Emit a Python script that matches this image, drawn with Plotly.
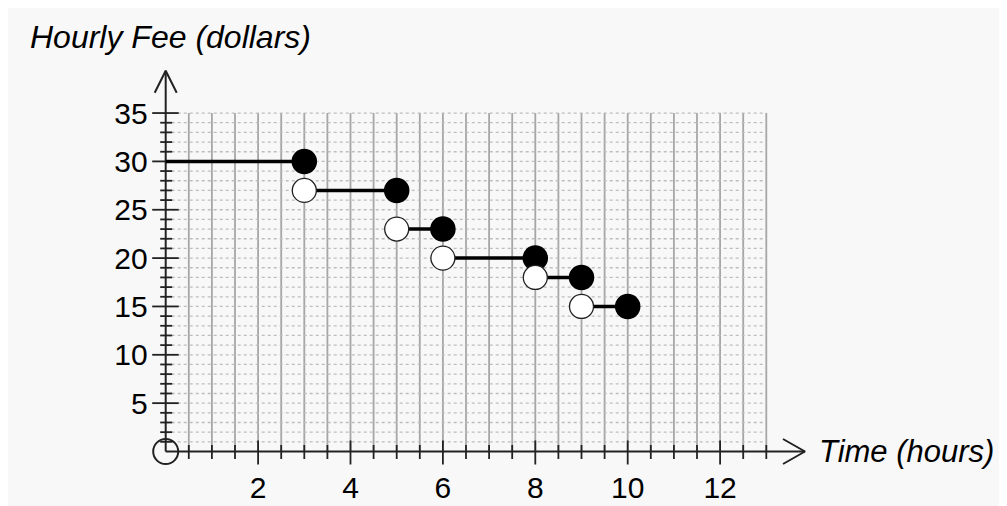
import plotly.graph_objects as go

# ---- data ----
seg_start = [0, 3, 5, 6, 8, 9]
seg_end = [3, 5, 6, 8, 9, 10]
fee = [30, 27, 23, 20, 18, 15]

x_tick_labels = [2, 4, 6, 8, 10, 12]
y_tick_labels = [5, 10, 15, 20, 25, 30, 35]
x_grid_max = 13
y_grid_max = 35
x_grid_step = 0.5

x_title = "Time (hours)"
y_title = "Hourly Fee (dollars)"

# ---- layout geometry (pixel mapping, figure coords; page has 8px body margin) ----
OFF = 8
W, H = 1007 - OFF, 506 - OFF
X0PX, Y0PX = 165.7 - OFF, 451.5 - OFF   # pixel of data origin
XU, YU = 46.2, 9.67                     # pixels per data unit

def px2x(p):
    return (p - OFF - X0PX) / XU

def px2y(p):
    return (Y0PX - (p - OFF)) / YU

xr = [(0 - X0PX) / XU, (W - X0PX) / XU]
yr = [(Y0PX - H) / YU, (Y0PX - 0) / YU]

FONT = "Arial, Liberation Sans, sans-serif"
BG = "#f8f8f8"

fig = go.Figure()

# vertical grid lines (solid)
gx, gy = [], []
n = int(round(x_grid_max / x_grid_step))
for i in range(1, n + 1):
    v = i * x_grid_step
    gx += [v, v, None]
    gy += [0, y_grid_max, None]
fig.add_trace(go.Scatter(x=gx, y=gy, mode="lines",
                         line=dict(color="#a6a6a6", width=1.8),
                         hoverinfo="skip", showlegend=False))

# horizontal grid lines (dotted)
hx, hy = [], []
for v in range(1, y_grid_max + 1):
    hx += [0, x_grid_max, None]
    hy += [v, v, None]
fig.add_trace(go.Scatter(x=hx, y=hy, mode="lines",
                         line=dict(color="#bdbdbd", width=1.3, dash="dot"),
                         hoverinfo="skip", showlegend=False))

# ticks (pixel lengths converted to data units)
tx, ty = [], []
for i in range(1, n + 1):
    v = i * x_grid_step
    if v in x_tick_labels:
        ty += [11 / YU, -13 / YU, None]
    else:
        ty += [6.5 / YU, -7.5 / YU, None]
    tx += [v, v, None]
for v in range(1, y_grid_max + 1):
    if v in y_tick_labels:
        tx += [-13.5 / XU, 13 / XU, None]
    else:
        tx += [-5.5 / XU, 6.5 / XU, None]
    ty += [v, v, None]
fig.add_trace(go.Scatter(x=tx, y=ty, mode="lines",
                         line=dict(color="#222222", width=1.8),
                         hoverinfo="skip", showlegend=False))

# axes with arrows
x_tip = px2x(805)
y_tip = px2y(70.7)
ax_x = [0, x_tip, None,
        x_tip - 22 / XU, x_tip, x_tip - 22 / XU, None,
        0, 0, None,
        -11 / XU, 0, 11 / XU]
ax_y = [0, 0, None,
        12.5 / YU, 0, -12.5 / YU, None,
        0, y_tip, None,
        y_tip - 22 / YU, y_tip, y_tip - 22 / YU]
fig.add_trace(go.Scatter(x=ax_x, y=ax_y, mode="lines",
                         line=dict(color="#222222", width=2),
                         hoverinfo="skip", showlegend=False))

# origin open circle
fig.add_trace(go.Scatter(x=[0], y=[0], mode="markers",
                         marker=dict(size=25, color="rgba(0,0,0,0)",
                                     line=dict(color="#222222", width=2)),
                         hoverinfo="skip", showlegend=False))

# step segments
sx, sy = [], []
for a, b, f in zip(seg_start, seg_end, fee):
    sx += [a, b, None]
    sy += [f, f, None]
fig.add_trace(go.Scatter(x=sx, y=sy, mode="lines",
                         line=dict(color="#000000", width=3.5),
                         hoverinfo="skip", showlegend=False))

# closed dots (right ends)
fig.add_trace(go.Scatter(x=seg_end, y=fee, mode="markers",
                         marker=dict(size=24, color="#000000",
                                     line=dict(color="#000000", width=1.5)),
                         showlegend=False))

# open dots (left ends, except the first)
fig.add_trace(go.Scatter(x=seg_start[1:], y=fee[1:], mode="markers",
                         marker=dict(size=24, color="#ffffff",
                                     line=dict(color="#222222", width=1.3)),
                         showlegend=False))

fig.update_layout(
    width=W, height=H,
    margin=dict(l=0, r=0, t=0, b=0, pad=0, autoexpand=False),
    paper_bgcolor=BG,
    plot_bgcolor=BG,
    showlegend=False,
    font=dict(family=FONT, color="#000000", size=30),
    xaxis=dict(range=xr, showgrid=False, zeroline=False, showline=False,
               tickvals=x_tick_labels, ticktext=[str(v) for v in x_tick_labels],
               ticks="outside", ticklen=9, tickcolor="rgba(0,0,0,0)",
               tickfont=dict(size=30, family=FONT, color="#000000"),
               anchor="free", position=(H - Y0PX) / H,
               automargin=False, fixedrange=True),
    yaxis=dict(range=yr, showgrid=False, zeroline=False, showline=False,
               tickvals=y_tick_labels, ticktext=[str(v) for v in y_tick_labels],
               ticks="outside", ticklen=12, tickcolor="rgba(0,0,0,0)",
               tickfont=dict(size=30, family=FONT, color="#000000"),
               anchor="free", position=X0PX / W,
               automargin=False, fixedrange=True),
    annotations=[
        dict(x=px2x(28), y=px2y(37), xref="x", yref="y",
             text="<i>" + y_title + "</i>", showarrow=False,
             xanchor="left", yanchor="middle",
             font=dict(size=32, family=FONT, color="#000000")),
        dict(x=px2x(817), y=px2y(451), xref="x", yref="y",
             text="<i>" + x_title + "</i>", showarrow=False,
             xanchor="left", yanchor="middle",
             font=dict(size=31, family=FONT, color="#000000")),
    ],
)

fig.write_html(
    "out.html",
    post_script="document.documentElement.style.overflow='hidden';"
                "document.body.style.overflow='hidden';",
)
